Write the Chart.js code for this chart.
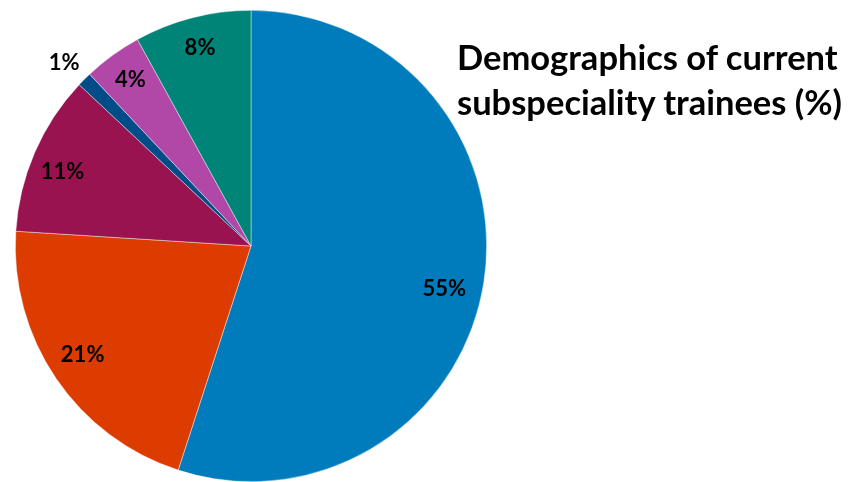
<!DOCTYPE html>
<html>
<head>
<meta charset="utf-8">
<script src="https://cdn.jsdelivr.net/npm/chart.js@4/dist/chart.umd.min.js"></script>
<style>
  html, body { margin: 0; padding: 0; background: #fff; }
  #wrap { position: relative; width: 853px; height: 482px; }
  #title {
    position: absolute; left: 457px; top: 34px;
    font-family: Lato, "Open Sans", sans-serif; font-weight: bold;
    font-size: 34.5px; line-height: 45px; color: #000; white-space: nowrap;
  }
</style>
</head>
<body>
<div id="wrap">
  <canvas id="pie" width="853" height="482"></canvas>
  <div id="title">Demographics of current<br>subspeciality trainees (%)</div>
</div>
<script>
// slices go clockwise from 12 o'clock
let categories = ["A", "B", "C", "D", "E", "F"];
let shares = [55, 21, 11, 1, 4, 8];
let sliceColors = ["#007BBB", "#DC3C00", "#98134F", "#004C88", "#B147A6", "#008478"];
// label placement: fraction of the radius, and a small turn (degrees) off the slice middle
let labelRadius = [0.84, 0.85, 0.86, 1.11, 0.87, 0.87];
let labelTurn = [3.6, 1.4, -1.9, -0.6, 0, 0];

// writes the percentage on (or beside) each slice
let pctLabels = {
    id: "pctLabels",
    afterDatasetsDraw(chart) {
        let ctx = chart.ctx;
        let arcs = chart.getDatasetMeta(0).data;
        ctx.save();
        ctx.font = "bold 22px Lato, 'Open Sans', sans-serif";
        ctx.fillStyle = "#000";
        ctx.textAlign = "center";
        ctx.textBaseline = "middle";
        arcs.forEach((arc, i) => {
            let mid = (arc.startAngle + arc.endAngle) / 2 + labelTurn[i] * Math.PI / 180;
            let r = arc.outerRadius * labelRadius[i];
            ctx.fillText(shares[i] + "%", arc.x + Math.cos(mid) * r, arc.y + Math.sin(mid) * r);
        });
        ctx.restore();
    }
};

new Chart(document.getElementById("pie"), {
    type: "pie",
    data: {
        labels: categories,
        datasets: [{
            data: shares,
            backgroundColor: sliceColors,
            borderColor: "rgba(255,255,255,0.6)",
            borderWidth: 0.7
        }]
    },
    options: {
        responsive: false,
        animation: false,
        layout: { padding: { left: 15, right: 366, top: 10, bottom: 0 } },
        plugins: { legend: { display: false }, tooltip: { enabled: false } }
    },
    plugins: [pctLabels]
});
</script>
</body>
</html>
